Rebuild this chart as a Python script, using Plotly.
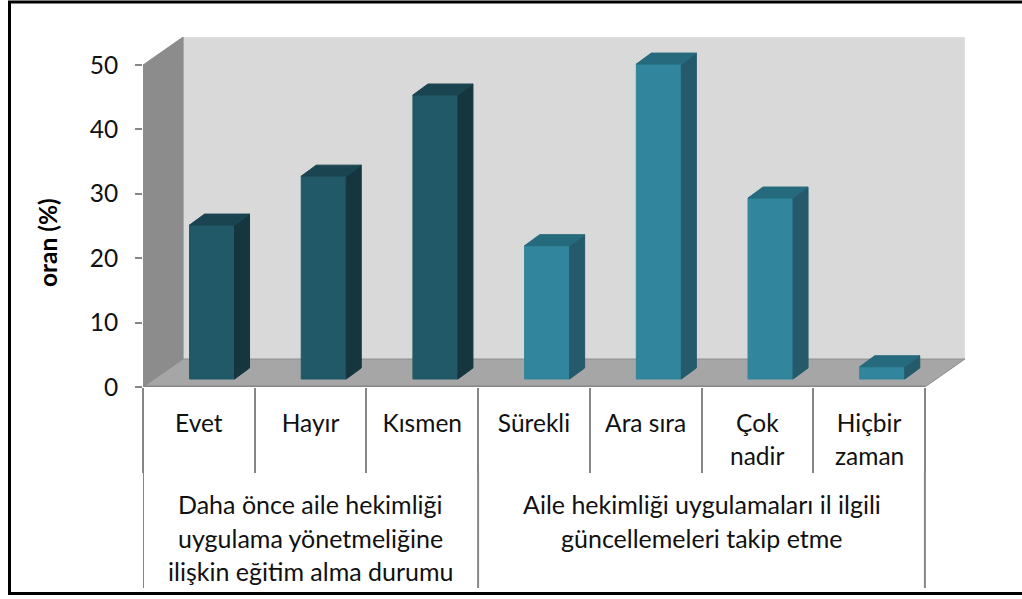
import plotly.graph_objects as go

categories = ["Evet", "Hayır", "Kısmen", "Sürekli", "Ara sıra", "Çok", "Hiçbir"]
second_lines = ["", "", "", "", "", "nadir", "zaman"]
values_a = [23.9, 31.5, 44.1]
values_b = [20.7, 48.9, 28.1, 1.9]
group_a_lines = ["Daha önce aile hekimliği", "uygulama yönetmeliğine", "ilişkin eğitim alma durumu"]
group_b_lines = ["Aile hekimliği uygulamaları il ilgili", "güncellemeleri takip etme"]
y_ticks = [0, 10, 20, 30, 40, 50]
y_title = "oran (%)"

W, H = 1022, 599
L, R, T, B = 143, 965, 37, 387
X_UNIT = 111.7
Y_UNIT = 6.44
WALL_DX = (R - L) / X_UNIT - 7
WALL_DY = (B - T) / Y_UNIT - 50
BAR_W = 0.403
BAR_SHIFT = 0.118
BAR_BASE = 8 / Y_UNIT
BAR_DX = 15 / X_UNIT
BAR_DY = 11 / Y_UNIT
FONT = "Lato"
SIZE = 24.5
GROUP_SIZE = 25
TXT = "#111111"
GRID = "#868686"

fig = go.Figure()


def poly(xs, ys, color, line=None):
    fig.add_trace(go.Scatter(x=xs, y=ys, mode="lines", fill="toself", fillcolor=color,
                             line=dict(color=line or color, width=1), hoverinfo="skip", showlegend=False))


def bars(start, values, front, top, side):
    centers = [start + i + 0.5 + BAR_SHIFT for i in range(len(values))]
    tx, ty, sx, sy = [], [], [], []
    for c, v in zip(centers, values):
        x0, x1 = c - BAR_W / 2, c + BAR_W / 2
        y0, y1 = BAR_BASE, BAR_BASE + v
        tx += [x0, x1, x1 + BAR_DX, x0 + BAR_DX, x0, None]
        ty += [y1, y1, y1 + BAR_DY, y1 + BAR_DY, y1, None]
        sx += [x1, x1 + BAR_DX, x1 + BAR_DX, x1, x1, None]
        sy += [y0, y0 + BAR_DY, y1 + BAR_DY, y1, y0, None]
    poly(sx, sy, side)
    poly(tx, ty, top)
    fig.add_trace(go.Bar(x=centers, y=values, base=BAR_BASE, width=BAR_W,
                         marker=dict(color=front, line=dict(color=front, width=1)),
                         hoverinfo="skip", showlegend=False))


bars(0, values_a, "#215968", "#1a4450", "#16363f")
bars(3, values_b, "#31859c", "#256a7d", "#245a6a")

# axis line along the front edge of the floor
fig.add_trace(go.Scatter(x=[0, 7], y=[0, 0], mode="lines", line=dict(color=GRID, width=3),
                         hoverinfo="skip", showlegend=False, cliponaxis=False))


def path(points):
    return "M" + " L".join(f"{a} {b}" for a, b in points) + " Z"


shapes = [
    dict(type="rect", xref="paper", yref="paper",
         x0=(9.5 - L) / (R - L), x1=(1040 - L) / (R - L),
         y0=(B - 593.5) / (B - T), y1=(B - 2) / (B - T),
         line=dict(color="#000000", width=3), layer="below"),
    # back wall, side wall, floor
    dict(type="rect", xref="x", yref="y", x0=WALL_DX, x1=7 + WALL_DX, y0=WALL_DY, y1=50 + WALL_DY,
         fillcolor="#d9d9d9", line=dict(color="#e4e4e4", width=1), layer="below"),
    dict(type="path", xref="x", yref="y", layer="below", fillcolor="#8c8c8c",
         line=dict(color="#8c8c8c", width=1),
         path=path([(0, 0), (WALL_DX, WALL_DY), (WALL_DX, 50 + WALL_DY), (0, 50)])),
    dict(type="path", xref="x", yref="y", layer="below", fillcolor="#a6a6a6",
         line=dict(color="#8c8c8c", width=1),
         path=path([(0, 0), (7, 0), (7 + WALL_DX, WALL_DY), (WALL_DX, WALL_DY)])),
]
# long dividers between the two groups
for xv in [0, 3, 7]:
    shapes.append(dict(type="line", xref="x", yref="paper", x0=xv, x1=xv,
                       y0=(B - 588) / (B - T), y1=(B - 471) / (B - T),
                       line=dict(color=GRID, width=2)))

annotations = [
    dict(text=y_title, xref="paper", yref="paper", x=(48 - L) / (R - L), y=(B - 243) / (B - T),
         xanchor="center", yanchor="middle",
         textangle=-90, showarrow=False, font=dict(family=FONT, size=SIZE, color="#000000", weight="bold")),
]
for i, s in enumerate(second_lines):
    if s:
        annotations.append(dict(text=s, xref="x", x=i + 0.5, yref="paper", y=(B - 455) / (B - T),
                                xanchor="center", yanchor="middle",
                                showarrow=False, font=dict(family=FONT, size=SIZE, color=TXT)))
for i, s in enumerate(group_a_lines):
    annotations.append(dict(text=s, xref="x", x=1.5, yref="paper", y=(B - (504 + 33.5 * i)) / (B - T),
                            xanchor="center", yanchor="middle",
                            showarrow=False, font=dict(family=FONT, size=GROUP_SIZE, color=TXT)))
for i, s in enumerate(group_b_lines):
    annotations.append(dict(text=s, xref="x", x=5, yref="paper", y=(B - (504 + 33.5 * i)) / (B - T),
                            xanchor="center", yanchor="middle",
                            showarrow=False, font=dict(family=FONT, size=GROUP_SIZE, color=TXT)))

fig.update_layout(
    width=W, height=H, autosize=False,
    margin=dict(l=L, r=W - R, t=T, b=H - B, pad=0),
    paper_bgcolor="#ffffff", plot_bgcolor="rgba(0,0,0,0)",
    showlegend=False, barmode="overlay",
    shapes=shapes, annotations=annotations,
    font=dict(family=FONT, size=SIZE, color=TXT),
    xaxis=dict(range=[0, 7 + WALL_DX], tickmode="array",
               tickvals=[i + 0.5 for i in range(len(categories))], ticktext=categories,
               ticks="", ticklen=0, ticklabelstandoff=19, showgrid=False, zeroline=False, showline=False,
               tickangle=0, tickfont=dict(family=FONT, size=SIZE, color=TXT),
               minor=dict(tickmode="array", tickvals=list(range(8)), ticks="outside", ticklen=85,
                          tickwidth=2, tickcolor=GRID, showgrid=False)),
    yaxis=dict(range=[0, 50 + WALL_DY], tickmode="array", tickvals=y_ticks, ticks="outside",
               ticklen=7, tickwidth=2, tickcolor=GRID, ticklabelstandoff=12,
               showgrid=False, zeroline=False, showline=False,
               tickfont=dict(family=FONT, size=SIZE, color=TXT)),
)

fig.write_html("out.html", config={"displayModeBar": False},
               post_script="document.body.style.margin='0';document.body.style.overflow='hidden';")
